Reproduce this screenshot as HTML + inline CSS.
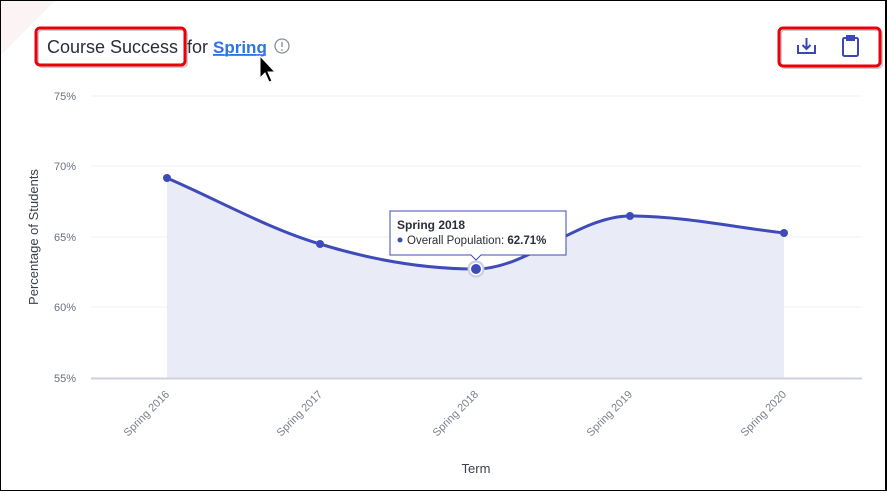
<!DOCTYPE html>
<html><head><meta charset="utf-8"><style>
html,body{margin:0;padding:0;background:#fff;}
body{width:887px;height:491px;position:relative;overflow:hidden;font-family:"Liberation Sans",sans-serif;}
.frame{position:absolute;left:0;top:0;width:884px;height:489px;border:1px solid #000;border-right:2px solid #000;border-bottom:1px solid #000;box-sizing:border-box;width:887px;height:491px;}
</style></head><body>
<svg width="887" height="491" style="position:absolute;left:0;top:0" font-family="Liberation Sans, sans-serif">
<polygon points="1,1 55,1 1,55" fill="#fbf3f4"/>
<!-- title -->
<rect x="36" y="28" width="149" height="37" rx="4" fill="none" stroke="#999" stroke-width="2" opacity="0.5" transform="translate(2,2)"/>
<rect x="36" y="28" width="149" height="37" rx="4" fill="none" stroke="#e8000b" stroke-width="3"/>
<text x="47" y="53" font-size="18" fill="#2a2e3a">Course Success</text>
<text x="187" y="53" font-size="18" fill="#2a2e3a">for</text>
<text x="213" y="53" font-size="17" font-weight="bold" fill="#2f73e8" text-decoration="underline">Spring</text>
<line x1="213" y1="55" x2="266" y2="55" stroke="#2f73e8" stroke-width="1.5"/>
<circle cx="282" cy="46" r="7" fill="none" stroke="#8a8f9c" stroke-width="1.3"/>
<line x1="282" y1="42" x2="282" y2="47" stroke="#8a8f9c" stroke-width="1.4"/>
<circle cx="282" cy="50" r="0.9" fill="#8a8f9c"/>
<!-- cursor -->
<path d="M260,56 L260,78 L265,73 L269,82 L272,81 L268,72 L275,72 Z" fill="#000" stroke="#fff" stroke-width="1"/>
<!-- icons box -->
<rect x="779" y="28" width="101" height="38" rx="4" fill="none" stroke="#999" stroke-width="2" opacity="0.5" transform="translate(2,2)"/>
<rect x="779" y="28" width="101" height="38" rx="4" fill="none" stroke="#e8000b" stroke-width="3"/>
<g stroke="#3a47b5" stroke-width="2" fill="none">
<path d="M798,45 L798,53 L815,53 L815,45"/>
<path d="M806.5,38 L806.5,49 M802.5,45 L806.5,49 L810.5,45"/>
<rect x="843" y="38" width="15" height="18" rx="1.5"/>
<rect x="847" y="36" width="7" height="4" fill="#3a47b5"/>
</g>
<!-- grid -->
<g stroke="#eef0f4" stroke-width="1">
<line x1="91" y1="96" x2="862" y2="96"/>
<line x1="91" y1="166" x2="862" y2="166"/>
<line x1="91" y1="237" x2="862" y2="237"/>
<line x1="91" y1="307" x2="862" y2="307"/>
</g>
<g font-size="11" fill="#6b7080" text-anchor="end">
<text x="76" y="100">75%</text>
<text x="76" y="170">70%</text>
<text x="76" y="241">65%</text>
<text x="76" y="311">60%</text>
<text x="76" y="382">55%</text>
</g>
<text transform="translate(38,237) rotate(-90)" font-size="13" fill="#3a3f4c" text-anchor="middle">Percentage of Students</text>
<!-- area -->
<path d="M167,178 C218,200 269,229 320,244 C372,260 424,269 476,269 C527,269 579,216 630,216 C681,216 733,227 784,233 L784,378 L167,378 Z" fill="#e9ebf6"/>
<path d="M167,178 C218,200 269,229 320,244 C372,260 424,269 476,269 C527,269 579,216 630,216 C681,216 733,227 784,233" fill="none" stroke="#3e4bb8" stroke-width="3"/>
<line x1="91" y1="378.5" x2="862" y2="378.5" stroke="#cfd2dc" stroke-width="2"/>
<g fill="#3e4bb8">
<circle cx="167" cy="178" r="4"/><circle cx="320" cy="244" r="4"/><circle cx="630" cy="216" r="4"/><circle cx="784" cy="233" r="4"/>
</g>
<circle cx="476" cy="269" r="7.5" fill="#fff" stroke="#c8cce8" stroke-width="2"/>
<circle cx="476" cy="269" r="5" fill="#3e4bb8"/>
<!-- tooltip -->
<path d="M390,211 L566,211 L566,255 L481,255 L476,260 L471,255 L390,255 Z" fill="#fff" stroke="#3e4bb8" stroke-width="1"/>
<text x="397" y="229" font-size="12" font-weight="bold" fill="#2a2e3a">Spring 2018</text>
<circle cx="400" cy="240" r="2.5" fill="#3e4bb8"/>
<text x="407" y="244" font-size="11.5" fill="#2a2e3a">Overall Population: <tspan font-weight="bold">62.71%</tspan></text>
<!-- x labels -->
<g font-size="11" fill="#7a7f8c" text-anchor="end">
<text transform="translate(170,395) rotate(-45)">Spring 2016</text>
<text transform="translate(323,395) rotate(-45)">Spring 2017</text>
<text transform="translate(479,395) rotate(-45)">Spring 2018</text>
<text transform="translate(633,395) rotate(-45)">Spring 2019</text>
<text transform="translate(787,395) rotate(-45)">Spring 2020</text>
</g>
<text x="476" y="473" font-size="13" fill="#3a3f4c" text-anchor="middle">Term</text>
</svg>
<div class="frame"></div>
</body></html>
